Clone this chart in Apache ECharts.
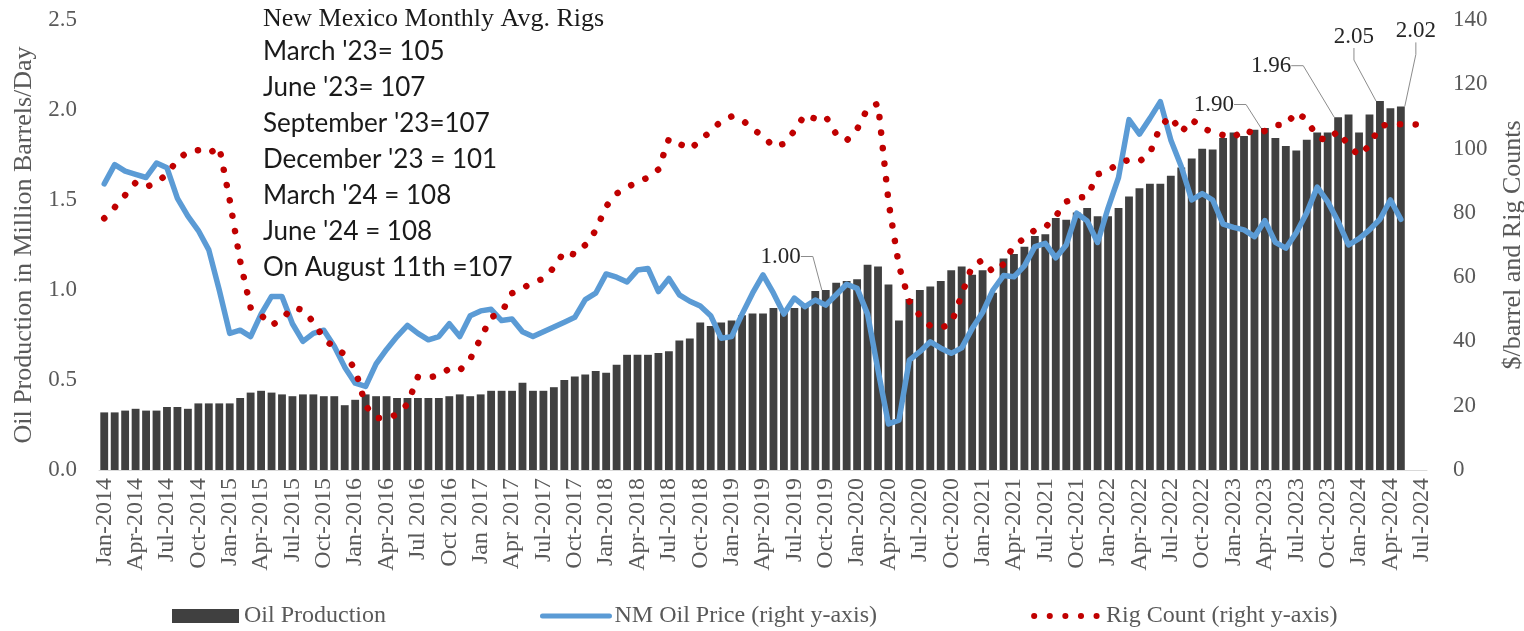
<!DOCTYPE html>
<html>
<head>
<meta charset="utf-8">
<title>New Mexico Oil Production, Oil Price and Rig Count</title>
<script src="https://cdn.jsdelivr.net/npm/echarts/dist/echarts.min.js"></script>
<style>
html, body { margin: 0; padding: 0; background: #fff; }
#chart { width: 1524px; height: 631px; }
</style>
</head>
<body>
<div id="chart"></div>
<script>
// monthly categories Jan-2014 .. Jul-2024
var monthNames = ["Jan", "Feb", "Mar", "Apr", "May", "Jun", "Jul", "Aug", "Sep", "Oct", "Nov", "Dec"];
var categories = [];
for (var y = 2014; y <= 2024; y++) {
  for (var m = 0; m < 12; m++) {
    if (y === 2024 && m > 6) break;
    categories.push(monthNames[m] + "-" + y);
  }
}

// tick labels shown every 3rd month (as printed on the original)
var tickLabels = [
  "Jan-2014", "Apr-2014", "Jul-2014", "Oct-2014", "Jan-2015", "Apr-2015", "Jul-2015", "Oct-2015",
  "Jan-2016", "Apr-2016", "Jul 2016", "Oct 2016", "Jan 2017", "Apr 2017", "Jul-2017", "Oct-2017",
  "Jan-2018", "Apr-2018", "Jul-2018", "Oct-2018", "Jan-2019", "Apr-2019", "Jul-2019", "Oct-2019",
  "Jan-2020", "Apr-2020", "Jul-2020", "Oct-2020", "Jan-2021", "Apr-2021", "Jul-2021", "Oct-2021",
  "Jan-2022", "Apr-2022", "Jul-2022", "Oct-2022", "Jan-2023", "Apr-2023", "Jul-2023", "Oct-2023",
  "Jan-2024", "Apr-2024", "Jul-2024"
];

// oil production, million barrels/day (Jan-2014 .. May-2024)
var oilProduction = [
  0.32, 0.32, 0.33, 0.34, 0.33, 0.33, 0.35, 0.35, 0.34, 0.37, 0.37, 0.37,
  0.37, 0.40, 0.43, 0.44, 0.43, 0.42, 0.41, 0.42, 0.42, 0.41, 0.41, 0.36,
  0.39, 0.42, 0.41, 0.41, 0.40, 0.40, 0.40, 0.40, 0.40, 0.41, 0.42, 0.41,
  0.42, 0.44, 0.44, 0.44, 0.485, 0.44, 0.44, 0.46, 0.50, 0.52, 0.53, 0.55,
  0.54, 0.585, 0.64, 0.64, 0.64, 0.65, 0.66, 0.72, 0.73, 0.82, 0.80, 0.82,
  0.83, 0.86, 0.87, 0.87, 0.90, 0.88, 0.90, 0.91, 0.995, 1.00, 1.04, 1.05,
  1.06, 1.14, 1.13, 1.03, 0.83, 0.95, 1.00, 1.02, 1.05, 1.11, 1.13, 1.085,
  1.11, 0.985, 1.175, 1.20, 1.24, 1.30, 1.31, 1.40, 1.39, 1.43, 1.455, 1.41,
  1.41, 1.455, 1.52, 1.565, 1.59, 1.59, 1.635, 1.68, 1.73, 1.785, 1.78, 1.845,
  1.875, 1.855, 1.89, 1.90, 1.845, 1.80, 1.775, 1.835, 1.875, 1.875, 1.96, 1.975,
  1.875, 1.975, 2.05, 2.01, 2.02, null, null
];

// NM oil price, $/barrel (Jan-2014 .. May-2024)
var oilPrice = [
  89, 95, 93, 92, 91, 95.5, 94, 84.5, 79, 74.5, 68.5, 56,
  42.5, 43.5, 41.5, 48.5, 54, 54, 45.5, 40, 42.5, 43.5, 38.5, 32,
  27, 26, 33, 37.5, 41.5, 45, 42.5, 40.5, 41.5, 45.5, 41.5, 48,
  49.5, 50, 46.5, 47, 43, 41.5, 43, 44.5, 46, 47.5, 53, 55,
  61, 60, 58.5, 62.2, 62.7, 55.5, 59.6, 54.5, 52.5, 51, 48, 41,
  41.5, 48.5, 55, 60.7, 55, 48.5, 53.5, 50.8, 52.9, 51.3, 54.5, 57.8,
  56.5, 48.5, 31, 14.3, 15.5, 34.2, 36.8, 39.9, 37.9, 36.3, 38, 44,
  49, 56, 60.5, 60.1, 63.5, 69.5, 70.5, 66, 70, 79.9, 77.5, 70.8,
  81.5, 91, 109, 104.5, 109.4, 114.6, 102.7, 94.4, 84, 86, 84, 76.5,
  75.5, 74.7, 72.6, 77.6, 70.8, 69, 73.8, 80, 88, 83.5, 77.3, 70,
  72, 74.7, 78, 84, 78, null, null
];

// rig count (Jan-2014 .. Jul-2024)
var rigCount = [
  78.3, 81.7, 85.5, 89.4, 88, 89.5, 92, 96.5, 99, 99.5, 98.5, 100.5,
  84, 65, 50.5, 48.2, 45, 47, 50.5, 49.8, 46, 41, 38, 36,
  31.3, 20, 16.2, 16, 17.3, 20.5, 29, 28.7, 29.5, 31.5, 31, 34.5,
  41, 47.5, 49, 55, 56.5, 58.4, 59.5, 63, 68, 67, 70, 74.5,
  82, 86, 88, 89.5, 91, 93.5, 103, 101.5, 99.8, 102.5, 105.5, 108.5,
  110, 109, 106, 104, 100.5, 101.5, 105.5, 110.5, 109.3, 110, 104.5, 102.5,
  106, 112.5, 114, 83.5, 63.5, 52.5, 48, 44.8, 44.2, 45.5, 54.5, 63.5,
  65.3, 61.5, 64, 70, 72, 74.7, 75.5, 79, 83.5, 84.7, 85, 92,
  93, 95.5, 96.5, 96, 98.5, 107, 110, 105, 109, 106.5, 105, 104.2,
  103.4, 106, 104.5, 105.5, 107.3, 107.4, 111.3, 109, 103.5, 102.5, 105.5, 101,
  97.8, 101, 107, 107.6, 107.6, 107.6, 107.4
];

// bars that carry a value label, with the label offset from the bar top
var labelledBars = { 69: [-45, -17], 111: [-51, -7], 118: [-67, -35], 122: [-26, -48], 124: [15, -59] };

var noteTitle = "New Mexico Monthly Avg. Rigs";
var noteLines = [
  "March '23= 105",
  "June '23= 107",
  "September '23=107",
  "December '23 = 101",
  "March '24 = 108",
  "June '24 = 108",
  "On August 11th =107"
];

var serif = '"Liberation Serif", "Times New Roman", serif';
var gray = "#595959";
var rigDash = [0.1, 15.5];

var barData = oilProduction.map(function (v, i) {
  if (labelledBars[i]) return { value: v, label: { show: true } };
  return v;
});

var graphics = [{
  type: "text", x: 263, y: 19,
  style: { text: noteTitle, font: "26px " + serif, fill: "#1a1a1a", verticalAlign: "middle" }
}];
noteLines.forEach(function (t, k) {
  graphics.push({
    type: "text", x: 263, y: 52 + k * 36,
    style: { text: t, font: "26px Lato, sans-serif", fill: "#1a1a1a", verticalAlign: "middle" }
  });
});

var myChart = echarts.init(document.getElementById("chart"));
var option = {
  animation: false,
  backgroundColor: "#fff",
  grid: { left: 99, right: 97, top: 20, bottom: 161, outerBoundsMode: "none" },
  legend: {
    left: 167,
    top: 599,
    itemWidth: 67,
    itemHeight: 14,
    itemGap: 154,
    textStyle: { fontFamily: serif, fontSize: 24, color: gray },
    data: [
      { name: "Oil Production", icon: "rect" },
      {
        name: "NM Oil Price (right y-axis)",
        itemStyle: { opacity: 0 },
        lineStyle: { width: 5, color: "#5b9bd5", cap: "round" }
      },
      {
        name: "Rig Count (right y-axis)",
        itemStyle: { opacity: 0 },
        lineStyle: { width: 6, color: "#c00000", type: rigDash, cap: "round" }
      }
    ]
  },
  xAxis: {
    type: "category",
    data: categories,
    axisLine: { lineStyle: { color: "#d9d9d9" } },
    axisTick: { show: false },
    axisLabel: {
      interval: 2,
      rotate: 90,
      margin: 8,
      fontFamily: serif,
      fontSize: 24,
      color: gray,
      formatter: function (v, idx) { return tickLabels[idx / 3]; }
    }
  },
  yAxis: [{
    type: "value",
    min: 0, max: 2.5, interval: 0.5,
    name: "Oil Production in Million Barrels/Day",
    nameLocation: "middle",
    nameGap: 58,
    nameTextStyle: { fontFamily: serif, fontSize: 26, color: gray },
    axisLine: { show: false },
    axisTick: { show: false },
    splitLine: { show: false },
    axisLabel: {
      margin: 22, fontFamily: serif, fontSize: 23, color: gray,
      formatter: function (v) { return v.toFixed(1); }
    }
  }, {
    type: "value",
    min: 0, max: 140, interval: 20,
    name: "$/barrel and Rig Counts",
    nameLocation: "middle",
    nameGap: 73,
    nameTextStyle: { fontFamily: serif, fontSize: 26, color: gray },
    axisLine: { show: false },
    axisTick: { show: false },
    splitLine: { show: false },
    axisLabel: { margin: 26, fontFamily: serif, fontSize: 23, color: gray }
  }],
  series: [{
    name: "Oil Production",
    type: "bar",
    data: barData,
    barWidth: "75%",
    itemStyle: { color: "#404040" },
    label: {
      show: false,
      position: "top",
      distance: 5,
      fontFamily: serif,
      fontSize: 23,
      color: "#262626",
      formatter: function (p) { return p.value.toFixed(2); }
    },
    labelLine: { show: true, length2: 12, lineStyle: { color: "#8c8c8c", width: 1 } },
    labelLayout: function (params) {
      var o = labelledBars[params.dataIndex];
      return o ? { dx: o[0], dy: o[1] } : {};
    }
  }, {
    name: "NM Oil Price (right y-axis)",
    type: "line",
    yAxisIndex: 1,
    data: oilPrice,
    symbol: "none",
    lineStyle: { color: "#5b9bd5", width: 5.5, join: "round", cap: "round" },
    itemStyle: { color: "#5b9bd5" }
  }, {
    name: "Rig Count (right y-axis)",
    type: "line",
    yAxisIndex: 1,
    data: rigCount,
    symbol: "none",
    lineStyle: { color: "#c00000", width: 6.5, type: rigDash, cap: "round", join: "round" },
    itemStyle: { color: "#c00000" }
  }],
  graphic: graphics
};
myChart.setOption(option);
</script>
</body>
</html>
